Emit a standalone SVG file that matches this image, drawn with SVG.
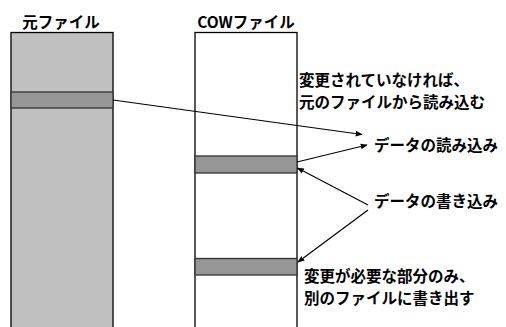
<svg xmlns="http://www.w3.org/2000/svg" width="506" height="327" viewBox="0 0 506 327">
<style>
text{font-family:"Noto Sans CJK JP","Liberation Sans",sans-serif;fill:#000}
.title{font-size:15.5px;font-weight:bold;text-anchor:middle}
.lbl{font-size:15.5px;font-weight:bold}
.file{stroke:#000;stroke-width:1.3}
.band{fill:#969696;stroke:#333;stroke-width:1.3}
.conn line{stroke:#000;stroke-width:1.2;fill:none;marker-end:url(#ah)}
</style>
<defs>
<marker id="ah" viewBox="0 0 10 10" refX="9" refY="5" markerWidth="7" markerHeight="7" markerUnits="userSpaceOnUse" orient="auto">
<path d="M0,1 L10,5 L0,9 z" fill="#000"/>
</marker>
</defs>
<rect width="506" height="327" fill="#fff"/>
<g id="orig">
<text class="title" x="61" y="28">元ファイル</text>
<rect class="file" x="11" y="32.5" width="102" height="300" fill="#c0c0c0"/>
<rect class="band" x="11" y="92" width="102" height="16"/>
</g>
<g id="cow">
<text class="title" x="246" y="28">COWファイル</text>
<rect class="file" x="195" y="32.5" width="102" height="300" fill="#fff"/>
<rect class="band" x="195" y="156" width="102" height="17"/>
<rect class="band" x="195" y="258.5" width="102" height="16.5"/>
</g>
<g id="note-read-orig">
<text class="lbl" x="299" y="86">変更されていなければ、</text>
<text class="lbl" x="299" y="108">元のファイルから読み込む</text>
</g>
<g id="note-read"><text class="lbl" x="374" y="151">データの読み込み</text></g>
<g id="note-write"><text class="lbl" x="374" y="207">データの書き込み</text></g>
<g id="note-cow">
<text class="lbl" x="304" y="282">変更が必要な部分のみ、</text>
<text class="lbl" x="304" y="304">別のファイルに書き出す</text>
</g>
<g class="conn" id="connectors">
<line x1="113" y1="100" x2="362" y2="134.5"/>
<line x1="297" y1="162" x2="367" y2="145"/>
<line x1="368" y1="205" x2="297.5" y2="168"/>
<line x1="368" y1="210" x2="298" y2="262"/>
</g>
</svg>
